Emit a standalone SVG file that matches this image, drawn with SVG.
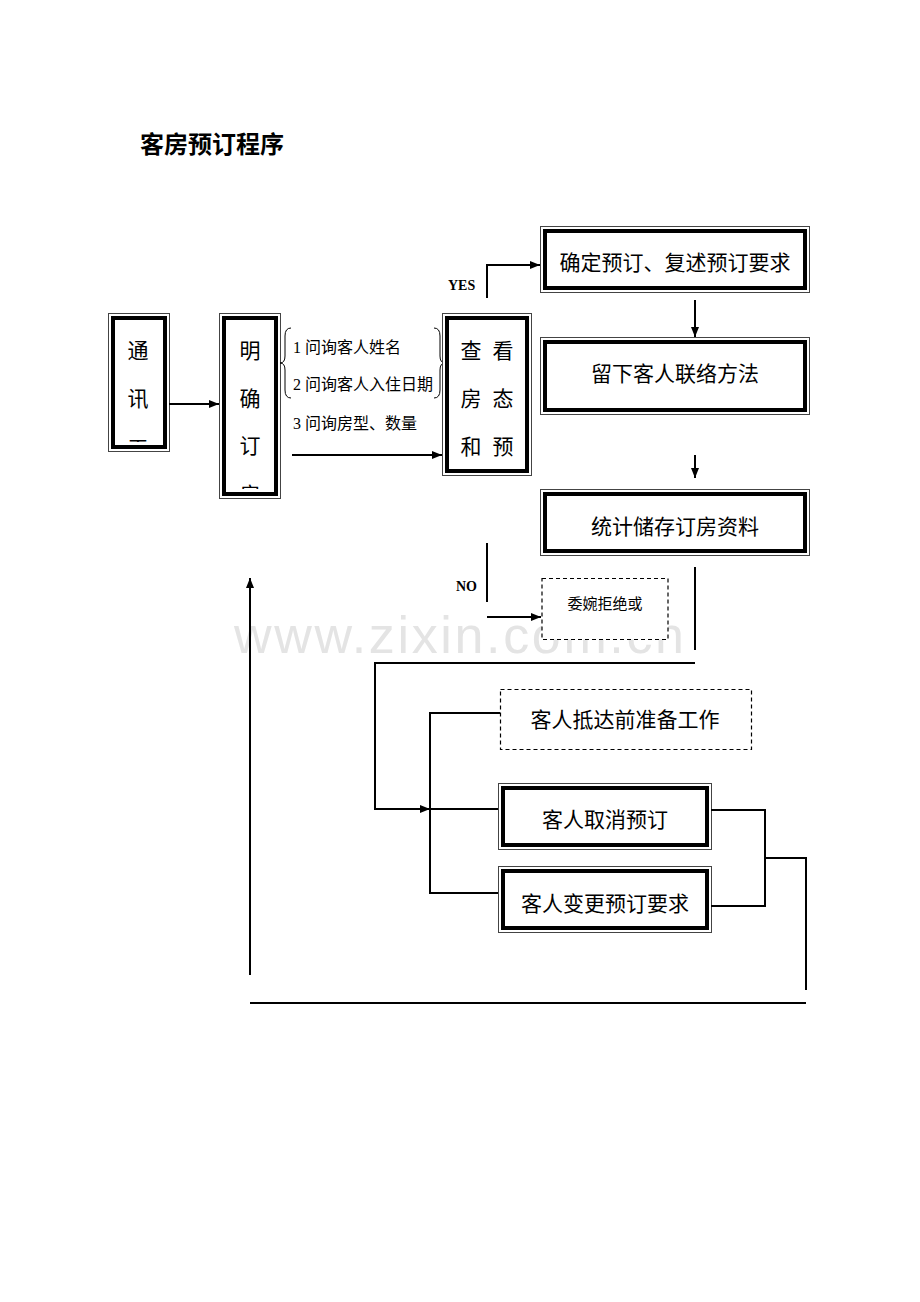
<svg xmlns="http://www.w3.org/2000/svg" width="920" height="1302" viewBox="0 0 920 1302">
<style>
.o{fill:#fff;stroke:#444;stroke-width:1}
.i{fill:none;stroke:#000;stroke-width:4}
.d{fill:#fff;stroke:#000;stroke-width:1.2;stroke-dasharray:4 3}
.t{font-family:"Liberation Sans","Noto Sans CJK SC",sans-serif;font-size:21px;fill:#000;text-anchor:middle}
.s{font-family:"Liberation Serif","Noto Sans CJK SC",serif;font-size:16px;fill:#000}
.b{font-family:"Liberation Serif",serif;font-size:14px;font-weight:bold;fill:#000}
.l{fill:none;stroke:#000;stroke-width:2}
</style>
<defs>
<marker id="ar" viewBox="0 0 10 10" refX="10" refY="5" markerWidth="10" markerHeight="10" markerUnits="userSpaceOnUse" orient="auto"><path d="M0,1 L10,5 L0,9 z" fill="#000"/></marker>
<clipPath id="c1"><rect x="115" y="320" width="47" height="122"/></clipPath>
<clipPath id="c2"><rect x="226" y="320" width="47" height="169"/></clipPath>
</defs>
<rect width="920" height="1302" fill="#fff"/>
<text x="459" y="653" text-anchor="middle" font-family="'Liberation Sans',sans-serif" font-size="52" textLength="450" lengthAdjust="spacing" fill="#e4e4e4">www.zixin.com.cn</text>
<text x="140" y="153" font-family="'Liberation Sans','Noto Sans CJK SC',sans-serif" font-size="24" font-weight="bold">客房预订程序</text>

<g id="n1"><rect class="o" x="108.5" y="313.5" width="61" height="138"/><rect class="i" x="113" y="318" width="52" height="129"/>
<g clip-path="url(#c1)"><text class="t" x="138" y="358">通</text><text class="t" x="138" y="406">讯</text><text class="t" x="138" y="456">平</text></g></g>
<g id="n2"><rect class="o" x="219.5" y="313.5" width="61" height="185"/><rect class="i" x="224" y="318" width="52" height="176"/>
<g clip-path="url(#c2)"><text class="t" x="250" y="358">明</text><text class="t" x="250" y="406">确</text><text class="t" x="250" y="453">订</text><text class="t" x="250" y="502">房</text></g></g>
<g id="list">
<path d="M291,328 Q285,328 285,336 L285,356 Q285,363 280,363 Q285,363 285,370 L285,390 Q285,398 291,398" fill="none" stroke="#000" stroke-width="1"/>
<path d="M434,328 Q440,328 440,336 L440,356 Q440,363 445,363 Q440,363 440,370 L440,390 Q440,398 434,398" fill="none" stroke="#000" stroke-width="1"/>
<text class="s" x="293" y="353">1 问询客人姓名</text>
<text class="s" x="293" y="390">2 问询客人入住日期</text>
<text class="s" x="293" y="429">3 问询房型、数量</text>
</g>
<g id="n3"><rect class="o" x="442.5" y="313.5" width="89" height="162"/><rect class="i" x="447" y="318" width="80" height="153"/>
<text class="t" x="471" y="358">查</text><text class="t" x="503" y="358">看</text>
<text class="t" x="471" y="406">房</text><text class="t" x="503" y="406">态</text>
<text class="t" x="471" y="454">和</text><text class="t" x="503" y="454">预</text></g>
<g id="n4"><rect class="o" x="540.5" y="226.5" width="269" height="66"/><rect class="i" x="545" y="231" width="260" height="57"/><text class="t" x="675" y="270">确定预订、复述预订要求</text></g>
<g id="n5"><rect class="o" x="540.5" y="337.5" width="269" height="77"/><rect class="i" x="545" y="342" width="260" height="68"/><text class="t" x="675" y="381">留下客人联络方法</text></g>
<g id="n6"><rect class="o" x="540.5" y="489.5" width="269" height="66"/><rect class="i" x="545" y="494" width="260" height="57"/><text class="t" x="675" y="534">统计储存订房资料</text></g>
<g id="n7"><rect class="d" x="542" y="578.5" width="126" height="61"/><text class="t" x="605" y="609" style="font-size:15px">委婉拒绝或</text></g>
<g id="n8"><rect class="d" x="500.5" y="689.5" width="251" height="60"/><text class="t" x="625" y="727">客人抵达前准备工作</text></g>
<g id="n9"><rect class="o" x="498.5" y="783.5" width="213" height="66"/><rect class="i" x="503" y="788" width="204" height="57"/><text class="t" x="605" y="827">客人取消预订</text></g>
<g id="n10"><rect class="o" x="498.5" y="866.5" width="213" height="66"/><rect class="i" x="503" y="871" width="204" height="57"/><text class="t" x="605" y="911">客人变更预订要求</text></g>

<g id="connectors">
<line class="l" x1="169" y1="404" x2="219" y2="404" marker-end="url(#ar)"/>
<line class="l" x1="292" y1="455" x2="442" y2="455" marker-end="url(#ar)"/>
<text class="b" x="448" y="290">YES</text>
<polyline class="l" points="487,298 487,265 540,265" marker-end="url(#ar)"/>
<line class="l" x1="695" y1="300" x2="695" y2="337" marker-end="url(#ar)"/>
<line class="l" x1="695" y1="455" x2="695" y2="478" marker-end="url(#ar)"/>
<line class="l" x1="487" y1="543" x2="487" y2="602"/>
<text class="b" x="456" y="591">NO</text>
<line class="l" x1="487" y1="617" x2="541" y2="617" marker-end="url(#ar)"/>
<line class="l" x1="695" y1="567" x2="695" y2="650"/>
<polyline class="l" points="695,663 375,663 375,809 430,809" marker-end="url(#ar)"/>
<polyline class="l" points="500,713 430,713 430,893 498,893"/>
<line class="l" x1="430" y1="809" x2="498" y2="809"/>
<polyline class="l" points="711,810 765,810 765,906 711,906"/>
<polyline class="l" points="765,858 806,858 806,990"/>
<line class="l" x1="250" y1="1003" x2="806" y2="1003"/>
<line class="l" x1="250" y1="975" x2="250" y2="578" marker-end="url(#ar)"/>
</g>
</svg>
